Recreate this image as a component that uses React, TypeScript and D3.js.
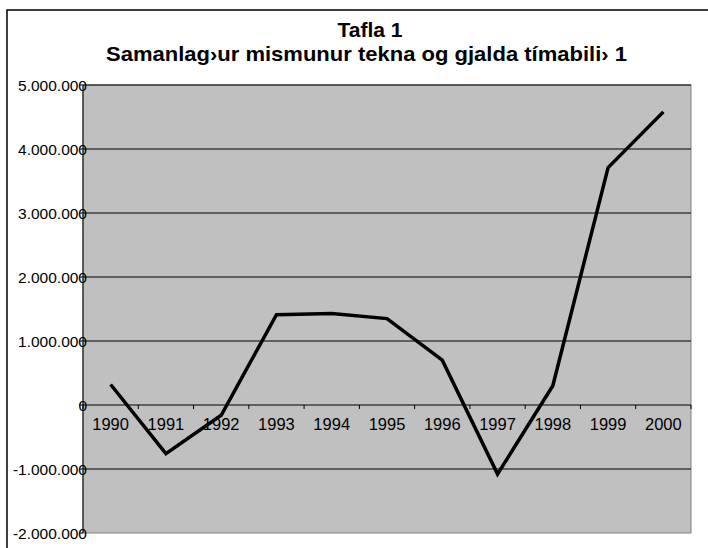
import * as d3 from "d3";

const years = ["1990", "1991", "1992", "1993", "1994", "1995", "1996", "1997", "1998", "1999", "2000"];
const values = [320000, -760000, -160000, 1410000, 1430000, 1350000, 700000, -1080000, 300000, 3710000, 4580000];
const yTicks = [-2000000, -1000000, 0, 1000000, 2000000, 3000000, 4000000, 5000000];
const titleLines = ["Tafla 1", "Samanlag›ur mismunur tekna og gjalda tímabili› 1"];

const W = 708;
const H = 548;
const PLOT = { left: 83, right: 691, top: 85, bottom: 533 };

const locale = d3.formatLocale({ decimal: ",", thousands: ".", grouping: [3], currency: ["", ""], minus: "-" });
const fmt = locale.format(",d");

export default function App() {
  const x = d3.scaleBand().domain(years).range([PLOT.left, PLOT.right]);
  const y = d3.scaleLinear().domain([-2000000, 5000000]).range([PLOT.bottom, PLOT.top]);

  const line = d3
    .line<number>()
    .x((_, i) => (x(years[i]) ?? 0) + x.bandwidth() / 2)
    .y((d) => y(d));

  const y0 = y(0);
  const font = "Arial, 'Liberation Sans', sans-serif";

  return (
    <svg
      width={W}
      height={H}
      style={{ position: "absolute", left: 0, top: 0, background: "#fff" }}
      fontFamily={font}
    >
      {/* chart frame */}
      <rect x={7} y={10} width={W} height={H} fill="#fff" stroke="#000" strokeWidth={1.5} />

      {/* title */}
      <text x={370} y={37} textAnchor="middle" fontSize={21} fontWeight="bold" textLength={65} lengthAdjust="spacingAndGlyphs">
        {titleLines[0]}
      </text>
      <text x={366.5} y={61} textAnchor="middle" fontSize={21} fontWeight="bold" textLength={521} lengthAdjust="spacingAndGlyphs">
        {titleLines[1]}
      </text>

      {/* plot area */}
      <rect
        x={PLOT.left}
        y={PLOT.top}
        width={PLOT.right - PLOT.left}
        height={PLOT.bottom - PLOT.top}
        fill="#c0c0c0"
        stroke="#808080"
        strokeWidth={1}
      />

      {/* gridlines */}
      {yTicks.map((t) =>
        t === -2000000 ? null : (
          <line key={t} x1={PLOT.left} x2={PLOT.right} y1={y(t)} y2={y(t)} stroke="#000" strokeWidth={1} />
        )
      )}

      {/* y axis */}
      <line x1={PLOT.left} x2={PLOT.left} y1={PLOT.top} y2={PLOT.bottom} stroke="#000" strokeWidth={1} />
      {yTicks.map((t) => (
        <g key={t}>
          <line x1={PLOT.left - 4} x2={PLOT.left} y1={y(t)} y2={y(t)} stroke="#000" />
          <text x={87} y={y(t) + 5.5} textAnchor="end" fontSize={15.5} fill="#000">
            {fmt(t)}
          </text>
        </g>
      ))}

      {/* x axis at zero */}
      {years.map((yr) => (
        <line
          key={yr}
          x1={x(yr) ?? 0}
          x2={x(yr) ?? 0}
          y1={y0}
          y2={y0 + 4}
          stroke="#000"
        />
      ))}
      <line x1={PLOT.right} x2={PLOT.right} y1={y0} y2={y0 + 4} stroke="#000" />
      {years.map((yr) => (
        <text
          key={yr}
          x={(x(yr) ?? 0) + x.bandwidth() / 2}
          y={y0 + 25}
          textAnchor="middle"
          fontSize={16.5}
          fill="#000"
        >
          {yr}
        </text>
      ))}

      {/* series */}
      <path d={line(values) ?? ""} fill="none" stroke="#000" strokeWidth={3.5} strokeLinejoin="miter" />
    </svg>
  );
}
